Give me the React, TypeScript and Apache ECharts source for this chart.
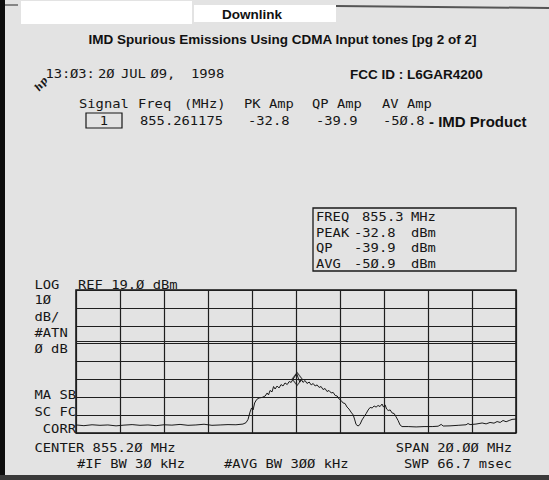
import React, { useEffect, useRef } from "react";
import * as echarts from "echarts";

// ---- instrument settings ----
const CENTER_MHZ = 855.2;
const SPAN_MHZ = 20;
const REF_DBM = 19;
const DB_PER_DIV = 10;
const V_DIVS = 8;
const H_DIV_MHZ = 2;

// ---- trace ----
const traceFreqMHz = [
  845.2, 845.56, 845.93, 846.29, 846.65, 847.02, 847.38, 847.75, 848.11, 848.47,
  848.84, 849.2, 849.56, 849.93, 850.29, 850.65, 851.02, 851.38, 851.75, 852.11,
  852.47, 852.79, 852.93, 853.02, 853.11, 853.18, 853.25, 853.32, 853.41, 853.52,
  853.66, 853.8, 853.89, 853.95, 854.02, 854.11, 854.18, 854.25, 854.34, 854.43,
  854.52, 854.61, 854.7, 854.8, 854.89, 854.98, 855.07, 855.16, 855.23, 855.3,
  855.37, 855.43, 855.52, 855.61, 855.7, 855.8, 855.89, 855.98, 856.07, 856.16,
  856.25, 856.34, 856.43, 856.52, 856.61, 856.7, 856.8, 856.89, 856.98, 857.07,
  857.16, 857.25, 857.34, 857.43, 857.52, 857.61, 857.7, 857.8, 857.86, 857.93,
  858.02, 858.11, 858.2, 858.3, 858.39, 858.48, 858.57, 858.66, 858.75, 858.84,
  858.93, 859.02, 859.11, 859.18, 859.25, 859.32, 859.39, 859.48, 859.57, 859.66,
  859.75, 859.84, 859.93, 860.02, 860.3, 860.66, 861.02, 861.39, 861.66, 861.8,
  861.89, 862.2, 862.57, 862.93, 863.02, 863.11, 863.38, 863.66, 863.84, 864.02,
  864.2, 864.34, 864.48, 864.61, 864.75, 864.89, 865.02, 865.2,
];
const traceLevelDbm = [
  -56.5, -56.9, -56.4, -56.7, -56.5, -57.0, -56.6, -56.3, -56.7, -56.5,
  -56.9, -56.4, -56.6, -56.2, -56.7, -56.5, -56.1, -56.7, -56.5, -56.3,
  -56.4, -56.0, -55.2, -53.4, -49.3, -47.0, -48.1, -44.2, -42.3, -41.4,
  -41.1, -40.3, -38.6, -39.7, -37.2, -38.0, -35.0, -36.4, -34.7, -35.8,
  -33.9, -34.7, -33.0, -33.9, -32.2, -32.7, -30.8, -29.1, -27.7, -30.2,
  -32.5, -30.8, -32.7, -31.6, -33.3, -32.5, -34.1, -33.3, -34.7, -34.1,
  -35.5, -35.0, -36.7, -36.1, -37.8, -37.2, -38.6, -38.3, -40.0, -40.3,
  -42.0, -42.8, -44.2, -44.5, -46.5, -47.6, -49.3, -50.9, -53.2, -56.2,
  -57.1, -56.2, -53.7, -51.8, -50.1, -48.1, -46.7, -47.0, -45.9, -46.5,
  -45.6, -46.2, -44.8, -46.5, -45.3, -47.6, -48.4, -48.1, -49.8, -50.1,
  -52.0, -54.0, -56.5, -57.4, -57.4, -57.6, -57.4, -57.4, -57.2, -56.2,
  -57.1, -57.0, -56.7, -56.4, -55.7, -56.3, -56.0, -55.4, -55.9, -55.1,
  -55.5, -54.6, -55.1, -54.0, -54.7, -54.0, -53.4, -53.2,
];
const markerFreqMHz = [855.25];
const markerLevelDbm = [-30.8];
const displayLineDbm = [-9.9];

// ---- texts ----
const headerTitle = "IMD Spurious Emissions Using CDMA Input tones [pg 2 of 2]";
const topLabel = "Downlink";
const fccId = "FCC ID : L6GAR4200";
const timestampParts = ["13:", "Ø3:", "2Ø", "JUL", "Ø9,", "1998"];
const tableHeaders = ["Signal", "Freq", "(MHz)", "PK Amp", "QP Amp", "AV Amp"];
const tableValues = ["855.261175", "-32.8", "-39.9", "-5Ø.8"];
const signalNumber = "1";
const productNote = "- IMD Product";
const markerBoxLabels = ["FREQ", "PEAK", "QP", "AVG"];
const markerBoxValues = ["855.3", "-32.8", "-39.9", "-5Ø.9"];
const markerBoxUnits = ["MHz", "dBm", "dBm", "dBm"];
const leftTopLabels = ["LOG", "1Ø", "dB/", "#ATN", "Ø dB"];
const leftBottomLabels = ["MA SB", "SC FC", "CORR"];
const refLabel = "REF 19.Ø dBm";
const centerLabel = "CENTER 855.2Ø MHz";
const spanLabel = "SPAN 2Ø.ØØ MHz";
const ifLabel = "#IF BW 3Ø kHz";
const avgLabel = "#AVG BW 3ØØ kHz";
const swpLabel = "SWP 66.7 msec";

const INK = "#161616";
const MONO = '12px "DejaVu Sans Mono"';
const SX = 1.15;

function mono(text: string, x: number, y: number, align: string = "left"): any {
  return {
    type: "text",
    x,
    y,
    scaleX: SX,
    silent: true,
    style: {
      text,
      font: MONO,
      fill: INK,
      textAlign: align,
      align,
      textVerticalAlign: "middle",
      verticalAlign: "middle",
    },
  };
}

function sans(text: string, x: number, y: number, size: number, align: string = "left"): any {
  return {
    type: "text",
    x,
    y,
    silent: true,
    style: {
      text,
      font: `bold ${size}px "Liberation Sans", Arial, sans-serif`,
      fill: "#111",
      textAlign: align,
      align,
      textVerticalAlign: "middle",
      verticalAlign: "middle",
    },
  };
}

export default function App() {
  const ref = useRef<HTMLDivElement>(null);

  useEffect(() => {
    if (!ref.current) return;
    const chart = echarts.init(ref.current, undefined, { renderer: "svg" });

    const traceData = traceFreqMHz.map((f, i) => [f - CENTER_MHZ, traceLevelDbm[i] - REF_DBM]);
    const markerData = markerFreqMHz.map((f, i) => [f - CENTER_MHZ, markerLevelDbm[i] - REF_DBM]);

    const tsX = [45.5, 70, 98, 121, 150.5, 191];
    const hdrX = [79, 138, 184, 244, 312, 382];
    const valX = [140, 248, 316, 383];
    const boxRowY = [217, 232.5, 248, 264];
    const leftTopY = [284.5, 300, 316.5, 332.5, 348.5];
    const leftBotY = [395, 412, 428.5];

    const graphics: any[] = [
      // scan borders
      { type: "rect", silent: true, shape: { x: 0, y: 0, width: 5, height: 480 }, style: { fill: "#0d0d0d" } },
      { type: "rect", silent: true, shape: { x: 0, y: 475, width: 549, height: 5 }, style: { fill: "#3a3a3a" } },
      { type: "line", silent: true, shape: { x1: 336, y1: 6, x2: 549, y2: 8 }, style: { stroke: "#555", lineWidth: 2 } },
      { type: "line", silent: true, shape: { x1: 5, y1: 5, x2: 18, y2: 5 }, style: { stroke: "#666", lineWidth: 1.5 } },
      // white label boxes
      { type: "rect", silent: true, shape: { x: 21, y: 1, width: 171, height: 23 }, style: { fill: "#ffffff" } },
      { type: "rect", silent: true, shape: { x: 194, y: 5, width: 142, height: 17 }, style: { fill: "#ffffff" } },
      sans(topLabel, 252, 14, 13.5, "center"),
      sans(headerTitle, 282.5, 39.5, 13.5, "center"),
      sans(fccId, 350, 74, 13.5),
      sans(productNote, 429, 121, 15),
      // hp logo
      {
        type: "text",
        x: 41,
        y: 84,
        rotation: 0.9,
        silent: true,
        style: {
          text: "hp",
          font: 'italic bold 10px "DejaVu Serif"',
          fill: INK,
          textAlign: "center",
          align: "center",
          textVerticalAlign: "middle",
          verticalAlign: "middle",
        },
      },
      ...timestampParts.map((t, i) => mono(t, tsX[i], 74)),
      ...tableHeaders.map((t, i) => mono(t, hdrX[i], 104)),
      { type: "rect", silent: true, shape: { x: 86, y: 113, width: 36, height: 15 }, style: { fill: "none", stroke: INK, lineWidth: 1.2 } },
      mono(signalNumber, 104, 121, "center"),
      ...tableValues.map((t, i) => mono(t, valX[i], 121)),
      // marker readout box
      { type: "rect", silent: true, shape: { x: 313, y: 208, width: 203, height: 63 }, style: { fill: "none", stroke: "#1a1a1a", lineWidth: 1.3 } },
      ...markerBoxLabels.map((t, i) => mono(t, 316, boxRowY[i])),
      ...markerBoxValues.map((t, i) => mono(t, t.startsWith("-") ? 354 : 362, boxRowY[i])),
      ...markerBoxUnits.map((t, i) => mono(t, 411, boxRowY[i])),
      // screen annotations
      ...leftTopLabels.map((t, i) => mono(t, 34.5, leftTopY[i])),
      mono(refLabel, 78, 285),
      ...leftBottomLabels.map((t, i) => mono(t, 76, leftBotY[i], "right")),
      mono(centerLabel, 34.5, 448),
      mono(spanLabel, 512, 448, "right"),
      mono(ifLabel, 77, 464),
      mono(avgLabel, 224, 464),
      mono(swpLabel, 512, 464, "right"),
    ];

    chart.setOption({
      animation: false,
      backgroundColor: "#e3e3e3",
      grid: {
        left: 76,
        top: 290,
        width: 440,
        height: 143,
        show: true,
        borderColor: "#111",
        borderWidth: 1.5,
        backgroundColor: "transparent",
      },
      xAxis: {
        type: "value",
        min: -SPAN_MHZ / 2,
        max: SPAN_MHZ / 2,
        interval: H_DIV_MHZ,
        axisLabel: { show: false },
        axisTick: { show: false },
        axisLine: { show: false },
        splitLine: { show: true, lineStyle: { color: "#1e1e1e", width: 1.2 } },
      },
      yAxis: {
        type: "value",
        min: -DB_PER_DIV * V_DIVS,
        max: 0,
        interval: DB_PER_DIV,
        axisLabel: { show: false },
        axisTick: { show: false },
        axisLine: { show: false },
        splitLine: { show: true, lineStyle: { color: "#1e1e1e", width: 1.2 } },
      },
      series: [
        {
          type: "line",
          data: traceData,
          showSymbol: false,
          symbol: "none",
          silent: true,
          lineStyle: { color: "#1a1a1a", width: 1 },
          markLine: {
            silent: true,
            symbol: "none",
            label: { show: false },
            lineStyle: { color: "#222", width: 1.2, type: "solid" },
            data: displayLineDbm.map((d) => ({ yAxis: d - REF_DBM })),
          },
        },
        {
          type: "scatter",
          data: markerData,
          symbol: "diamond",
          symbolSize: [10, 13],
          silent: true,
          itemStyle: { color: "rgba(0,0,0,0)", borderColor: "#222", borderWidth: 1 },
        },
      ],
      graphic: graphics,
    });

    return () => chart.dispose();
  }, []);

  return (
    <div
      ref={ref}
      style={{ position: "absolute", left: 0, top: 0, width: 549, height: 480 }}
    />
  );
}
